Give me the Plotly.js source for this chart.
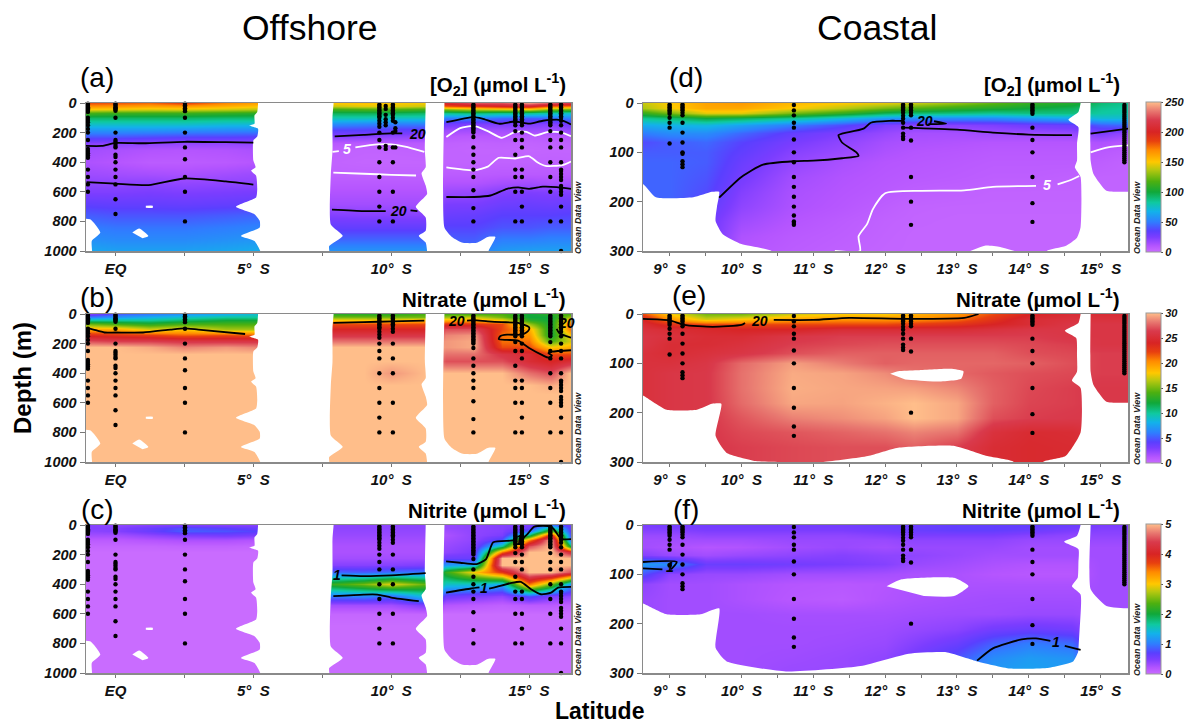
<!DOCTYPE html>
<html><head><meta charset="utf-8"><script src="https://cdn.plot.ly/plotly-3.0.1.min.js"></script>
<style>html,body{margin:0;padding:0;background:#fff}#c{width:1184px;height:724px}</style></head>
<body><div id="c"></div>
<script>
// ---------- shared colours ----------
const odvColors = [[0,'#c96cff'],[0.04,'#b555ff'],[0.1,'#7b3dff'],[0.14,'#5a3fff'],[0.2,'#2f7dff'],[0.27,'#12b2ea'],[0.33,'#0fc9a0'],[0.4,'#10a83a'],[0.47,'#4db010'],[0.55,'#b8c810'],[0.6,'#ffc800'],[0.68,'#ff8a00'],[0.74,'#e8400f'],[0.8,'#d82424'],[0.88,'#d93a4c'],[0.94,'#e87870'],[1,'#ffbe8a']];

// ---------- grids ----------
const latOff = [-1,0,1.2,2.5,4,5.2,6.5,7.8,9,10,11.3,12,13,14,15,15.8,16.5];
const depthOff = [0,20,40,70,100,140,180,220,270,320,400,480,540,600,680,760,840,920,1000];
const latCoast = [8.63,9,9.5,10,10.7,11.4,12,12.4,13,13.5,14,14.6,15,15.38];
const depthCoast = [0,10,20,30,45,60,80,100,120,150,180,210,240,270,300];

const o2Off = [
[182,180,176,186,170,162,160,150,152,150,148,205,225,225,240,225,215],
[168,166,162,165,158,152,150,140,145,145,140,180,190,200,205,180,175],
[150,148,145,146,142,138,130,115,118,120,115,130,140,145,150,130,125],
[115,112,112,112,110,108,100,95,95,95,92,85,90,85,85,80,75],
[92,92,92,92,90,90,85,78,78,75,75,50,52,45,42,45,50],
[75,75,75,75,72,72,65,55,52,50,50,28,24,24,24,22,28],
[58,58,58,56,54,54,45,35,35,33,32,16,15,15,16,15,18],
[42,42,40,38,38,36,30,22,22,20,20,9,8,9,7,8,9],
[22,21,20,19,19,20,14,9,8,8,8,5,4,5,4,5,5],
[15,13,11,10,11,13,8,5,4,4,5,4,3.5,3.5,3,3.5,3.5],
[12,10,7,7,8,10,6,4,3,3,3,4,4,4.5,4.5,5,4.5],
[16,15,14,13,15,17,8,5,5,5,5,7,7,8,8,8,8],
[20,20,21,19,20,20,10,8,8,8,8,11,11,14,15,13,14],
[24,24,25,24,25,26,12,11,11,11,11,17,18,23,24,23,23],
[33,32,32,31,32,33,15,15,15,15,15,25,25,29,30,29,30],
[42,40,40,40,42,44,20,23,22,22,22,30,31,35,35,35,36],
[50,48,48,48,50,52,30,32,32,32,32,36,36,40,40,42,42],
[56,54,54,54,56,58,40,44,44,44,44,42,42,50,50,52,52],
[64,62,62,62,64,66,55,58,58,58,58,50,50,60,62,62,62]];

const no3Off = [
[3,5,6,7,8,9,10,13,13,13,14,14,14,14,12,13,14],
[6,7,8,9,10,10,11,15,15,15,15,16,17,15,12,12,16],
[10,10,10,11,12,12,13,18,18,18,19,19,19,18,13,12,19],
[15,14,13,14,14,14,17,22,22,22,22,23,23,22,16,12,21],
[19,19,17,18,16,16,20,24,24,24,24,27,27,22,19,12,21],
[23.5,23,22.5,21.5,22,21.5,24,26,26,26,26,28.5,29,21,20,12,18],
[27,26.5,26.5,26,26,26,27,28,28,28,28,29,29.5,21,21,14,17],
[30,30,29.5,28.5,29,28.5,29,30,30,30,30,29,29.5,22,22,18,19],
[30,30,30,30,30,30,30,30,30,30,30,28,28,26,25,22,22],
[30,30,30,30,30,30,30,30,30,30,30,27,27,27,25,24,25],
[30,30,30,30,30,30,30,30,30,29,30,30,30,30,28,27,30],
[30,30,30,30,30,30,30,30,30,30,30,30,30,30,30,29.5,30],
[30,30,30,30,30,30,30,30,30,30,30,30,30,30,30,30,30],
[30,30,30,30,30,30,30,30,30,30,30,30,30,30,30,30,30],
[30,30,30,30,30,30,30,30,30,30,30,30,30,30,30,30,30],
[30,30,30,30,30,30,30,30,30,30,30,30,30,30,30,30,30],
[30,30,30,30,30,30,30,30,30,30,30,30,30,30,30,30,30],
[30,30,30,30,30,30,30,30,30,30,30,30,30,30,30,30,30],
[30,30,30,30,30,30,30,30,30,30,30,30,30,30,30,30,30]];

const no2Off = [
[.45,.4,.45,.5,.45,.45,.4,.4,.4,.4,.4,.35,.4,.45,.5,1,.6],
[.45,.45,.6,.8,.7,.6,.4,.4,.4,.4,.4,.35,.4,.45,.6,1.8,.65],
[.4,.45,.6,.85,.8,.7,.4,.38,.38,.38,.38,.3,.4,.45,.9,2.5,.7],
[.3,.3,.4,.5,.55,.5,.35,.35,.35,.35,.35,.25,.4,.5,1.8,4,.85],
[.15,.15,.2,.25,.25,.2,.3,.3,.3,.3,.3,.3,.4,.8,3.4,5,1],
[.05,.05,.05,.08,.08,.05,.25,.25,.25,.25,.25,.35,.45,1.7,4.5,5,2],
[0,0,0,0,0,0,.25,.25,.25,.25,.25,.4,.5,3.5,5,5,4.2],
[0,0,0,0,0,0,.3,.3,.3,.3,.3,.6,.6,5,5,5,5],
[0,0,0,0,0,0,.45,.45,.45,.45,.5,1.2,1.3,5,5,5,5],
[0,0,0,0,0,0,.9,.9,.85,.95,1,2.2,3,3.8,5,5,4.5],
[0,0,0,0,0,0,2,2.2,2.5,2.9,2.4,1.5,1.5,1.3,3.5,2.5,1.2],
[0,0,0,0,0,0,1,1,1.05,.9,1.5,.6,.5,.4,.8,.5,.4],
[0,0,0,0,0,0,.3,.3,.3,.3,.5,.2,.15,.1,.15,.15,.1],
[0,0,0,0,0,0,.05,.05,.05,.05,.05,0,0,0,0,0,0],
[0,0,0,0,0,0,0,0,0,0,0,0,0,0,0,0,0],
[0,0,0,0,0,0,0,0,0,0,0,0,0,0,0,0,0],
[0,0,0,0,0,0,0,0,0,0,0,0,0,0,0,0,0],
[0,0,0,0,0,0,0,0,0,0,0,0,0,0,0,0,0],
[0,0,0,0,0,0,0,0,0,0,0,0,0,0,0,0,0]];

const o2Coast = [
[140,150,162,165,155,150,145,140,130,120,110,105,90,85],
[135,148,160,160,150,138,125,118,110,105,100,95,85,82],
[110,125,145,145,125,110,95,90,88,85,88,88,82,80],
[85,90,100,95,85,72,60,55,55,55,60,65,72,72],
[65,68,70,62,50,38,24,22,22,24,28,30,42,45],
[50,55,55,45,32,24,18,14,14,16,16,18,25,18],
[38,42,45,36,26,20,14,12,11,10,10,10,12,9],
[42,42,42,33,22,17,12,10,9,8,8,8,8,6],
[44,44,42,30,19,13,10,9,8,7,7,7,6,4],
[44,44,40,27,15,11,9,8,7,6,6,5,4,4],
[44,44,38,23,13,10,8,6,5,4,4,4,4,4],
[44,44,34,20,12,9,6,4,3.5,3.5,3.5,3.5,3.5,3.5],
[44,44,30,16,10,7,4.5,3.5,3,3,3,3,3,3],
[44,44,30,12,8,6,4,3,3,3,3,3,3,3],
[44,44,30,10,7,5,3.5,3,3,3,3,3,3,3]];

const no3Coast = [
[22,18,15,15,17,18,18,19,20,22,24,25,25,25],
[24,20,17,18,19.5,20,20,20,21,23,25,25.5,25.5,25.5],
[25,23,22,22,22,22,22,22.5,23,24,25,26,26,26],
[25.5,25,24.5,24,24,25,25,25,25,25.5,26,26,26,26],
[26,25.5,25,25,26,26.5,26.5,26.5,26.5,26.5,26.5,26,26,26],
[26,25,25,25.5,26.5,26.8,27,27,27,27,26.8,26.5,26,26],
[25.5,25,25.5,26,27,27.5,27.5,27.5,27.5,27.5,27,26.8,26.5,26.5],
[25.5,25.5,26,27.8,29.2,28.3,27.5,27.7,27.7,27.7,27.5,27,26.5,26.5],
[25.5,26,26.2,28,29.5,29.3,28.7,28,27.7,27.3,27,26.8,26.5,26.5],
[25.5,26,26.2,28,29.6,29.4,29.3,29.2,28.6,27.5,26.8,26.5,26.2,26.2],
[25.5,26,26.2,27.8,29.4,29.3,29.7,30,29.4,27.5,26.7,26.5,26.2,26.2],
[25.5,26,26.2,27.2,28.4,28.8,29.3,30,29.4,27,26.5,26.3,26.2,26.2],
[25.5,26,26.2,26.8,27.2,27.6,28,28.5,28,25.5,24.8,25,26,26],
[25.5,26,26.2,26.5,26.8,27,27,27.5,26.5,25,24.6,24.8,26,26],
[25.5,26,26.2,26.5,26.8,27,27,27.5,26.5,25,24.6,24.8,26,26]];

const no2Coast = [
[.5,.55,.55,.55,.55,.55,.6,.6,.65,.65,.65,.6,.5,.5],
[.45,.45,.5,.5,.5,.5,.55,.6,.65,.65,.6,.5,.45,.45],
[.35,.35,.4,.4,.4,.4,.45,.5,.5,.5,.45,.4,.4,.4],
[.3,.3,.3,.3,.35,.35,.35,.4,.4,.4,.35,.35,.35,.35],
[.3,.25,.2,.22,.3,.35,.3,.35,.35,.35,.3,.3,.3,.3],
[.45,.35,.3,.35,.4,.45,.4,.4,.35,.3,.3,.3,.3,.3],
[1.2,1.1,.6,.6,.55,.5,.45,.35,.3,.25,.22,.22,.3,.3],
[.8,.4,.35,.35,.3,.3,.28,.25,.25,.2,.18,.18,.3,.3],
[.4,.3,.3,.25,.2,.18,.2,.25,.25,.25,.25,.25,.3,.3],
[.35,.3,.3,.25,.18,.15,.22,.25,.28,.3,.3,.3,.3,.3],
[.35,.3,.3,.3,.28,.28,.28,.3,.32,.32,.35,.35,.3,.3],
[.3,.3,.3,.3,.3,.3,.32,.36,.42,.55,.6,.55,.3,.3],
[.3,.3,.3,.3,.3,.32,.35,.45,.6,.85,1,.9,.3,.3],
[.3,.3,.3,.3,.32,.35,.4,.55,.8,1.1,1.2,1.15,.3,.3],
[.3,.3,.3,.3,.35,.35,.4,.6,.9,1.2,1.25,1.2,.3,.3]];

// ---------- no-data outlines [latitude, depth] ----------
const gapMid = [[5.17,-20],[5.17,0],[5.14,61],[5.04,84],[5.04,140],[4.86,152],[5.17,174],[5.14,226],[5,253],[5,389],[5.08,434],[4.92,457],[5.1,491],[5.14,581],[5.1,638],[4.37,701],[5.04,751],[5.23,796],[5.23,841],[4.55,898],[5.04,932],[5.25,1000],[5.25,1040],[7.75,1040],[7.75,966],[8.24,898],[7.81,821],[7.81,480],[7.87,322],[7.87,95],[7.91,0],[7.91,-20]];
const gapShelf = [[11.25,-20],[11.25,0],[11.22,322],[11.25,434],[11.1,475],[11.25,558],[11.3,615],[10.89,701],[11.25,773],[11.25,864],[11,898],[11.25,943],[11.3,1000],[11.3,1040],[13.53,1040],[13.53,1000],[13.78,905],[13.5,905],[13.1,945],[12.6,945],[12.2,905],[11.93,841],[11.93,0],[11.93,-20]];
const gapCorner = [[-1.4,785],[-0.92,785],[-0.55,875],[-0.86,932],[-0.86,1040],[-1.4,1040]];
const islandA = [[1.1,694],[1.35,694],[1.35,708],[1.1,708]];
const islandB = [[0.61,875],[0.86,848],[1.19,898],[0.98,914]];
const gapsOff = [gapMid,gapShelf,gapCorner,islandA,islandB];

const coastD1 = [[8.4,150],[8.63,164],[8.81,191],[9.33,191],[9.59,180],[9.69,180],[9.66,210],[9.64,239],[9.74,266],[10,286],[10.42,300],[10.5,320],[8.4,320]];
const coastD2 = [[14.72,-10],[14.72,0],[14.69,18],[14.55,34],[14.69,49],[14.67,83],[14.67,117],[14.64,130],[14.72,150],[14.72,252],[14.67,273],[14.51,290],[14.25,300],[14.25,320],[15.6,320],[15.6,180],[15.38,180],[15.08,178],[14.9,144],[14.86,117],[14.86,0],[14.86,-10]];
const coastD3 = [[13.15,302],[13.4,289],[13.6,292],[13.85,302]];
const coastE1 = [[8.4,150],[8.63,165],[8.96,194],[9.38,194],[9.59,182],[9.72,182],[9.64,247],[9.79,281],[10.2,298],[10.6,300],[11.14,300],[11.76,288],[12.18,271],[12.95,267],[13.42,288],[13.79,300],[13.79,320],[8.4,320]];
const coastE2 = [[14.72,-10],[14.72,0],[14.69,18],[14.5,34],[14.66,49],[14.67,83],[14.67,117],[14.6,135],[14.72,150],[14.72,240],[14.51,288],[14.2,300],[14.2,320],[15.6,320],[15.6,180],[15.38,180],[15.08,178],[14.9,144],[14.86,117],[14.86,0],[14.86,-10]];
const coastE3 = [[12.07,121],[12.18,116],[12.44,114],[12.91,111],[13.09,116],[13.06,131],[12.7,137],[12.28,133]];
const coastF1 = [[8.4,150],[8.63,159],[8.96,181],[9.43,181],[9.69,169],[9.64,249],[9.79,276],[10.62,297],[11.66,286],[12.33,261],[12.85,258],[13.27,276],[13.74,291],[14.25,290],[14.62,276],[14.72,249],[14.75,320],[8.4,320]];
const coastF2 = [[14.72,-10],[14.72,0],[14.67,22],[14.49,34],[14.69,49],[14.69,76],[14.68,107],[14.6,124],[14.72,141],[14.72,320],[15.6,320],[15.6,169],[15.38,169],[15.08,164],[14.86,130],[14.86,0],[14.86,-10]];
const coastF3 = [[12.02,124],[12.23,110],[12.96,107],[13.16,124],[12.96,144],[12.54,144]];

// ---------- sampling stations: [latitude, depths] ----------
const stationsOff = [
[-1,[5,12,20,28,36,44,52,60,100,115,130,150,175,200,250,310,325,340,355,370,450,500,550,600]],
[0,[5,12,20,28,36,44,52,100,200,250,262,275,290,300,350,365,400,450,500,550,650,750]],
[2.52,[5,15,25,35,45,55,100,200,300,380,500,600,800]],
[9.57,[10,20,30,40,50,60,70,80,90,100,120,140,160,200,250,300,400,500,600,700,800]],
[10.06,[10,20,30,40,50,60,70,80,100,120,200,300,400,600,800]],
[12.98,[10,20,30,40,50,60,70,80,90,100,110,120,130,140,150,160,170,180,190,200,230,300,350,400,450,500,590,710,800]],
[14.5,[10,20,30,40,50,60,70,80,90,100,110,120,130,150,190,250,350,450,500,600,800]],
[14.74,[10,20,30,40,50,60,70,80,90,100,110,120,130,150,200,250,300,450,500,600,700,800]],
[15.77,[10,20,30,40,50,60,70,80,90,100,110,120,130,140,150,190,250,300,400,500,600,800]],
[16.16,[10,20,30,40,50,60,70,80,90,100,120,150,200,250,300,400,450,460,480,500,520,560,580,600,620,700,800,1000]]];
const extraO2 = [[9.8,[20,40,80,110,130,150,290,310]],[10.15,[130,170,190,300]]];
const stationsCoastA = [
[9,[3,6,9,12,15,18,22,30,40,50,82]],
[9.18,[3,6,9,12,15,20,25,40,60,80,100,103,118,124,130]],
[10.73,[4,15,25,40,50,74,100,120,150,170,190,210,228,240,243,247]],
[12.25,[3,6,9,12,15,20,26,32,40,50,62,68,73]],
[12.36,[3,6,9,12,15,20,25,50,76,150,200,247]],
[14.05,[3,6,9,12,15,18,22,50,75,100,150,203,241]],
[15.33,[4,8,12,16,20,24,28,32,36,40,44,48,52,56,60,64,68,72,76,80,84,88,92,96,100,104,108,112,116,120]]];
const stationsCoastB = [
[9,[3,6,9,12,15,18,22,30,40,50,82]],
[9.18,[3,6,9,12,15,20,25,40,60,80,100,118,124,130]],
[10.73,[4,15,25,40,50,74,100,150,190,228,247]],
[12.25,[3,6,9,12,15,20,26,32,40,50,62,68,73]],
[12.36,[3,6,9,12,15,20,25,50,76,200]],
[14.05,[3,6,9,12,15,18,22,50,75,100,150,203,241]],
[15.33,[4,8,12,16,20,24,28,32,36,40,44,48,52,56,60,64,68,72,76,80,84,88,92,96,100,104,108,112,116,120]]];

// ---------- isolines [latitude, depth] ----------
const isoA = {
 black:[
 [[-1.07,290],[-0.5,290],[0,270],[1,272],[2.5,262],[4,265],[5,268]],
 [[-1.05,535],[0,545],[1.2,555],[2.5,510],[4,530],[5,552]],
 [[7.95,225],[9,215],[10,205],[10.4,205]],
 [[7.85,720],[9,730],[9.8,730]],[[10.7,725],[10.95,730]],
 [[12,130],[12.98,95],[13.3,105],[13.9,140],[14.5,125],[15,140],[15.5,120],[16.16,115],[16.52,145]],
 [[12,635],[13,635],[13.6,625],[14.2,580],[14.6,570],[15,580],[15.5,565],[16,568],[16.52,580]]],
 white:[
 [[7.87,330],[8.1,325]],[[8.7,300],[9.5,280],[10,280],[10.5,295],[11.2,330]],
 [[7.9,470],[9,478],[10,485],[10.9,490]],
 [[12,230],[12.5,170],[13,155],[13.5,190],[14,235],[14.5,195],[14.9,195],[15.2,220],[15.7,195],[16.2,200],[16.52,225]],
 [[12,435],[13,455],[13.5,430],[13.9,370],[14.5,375],[15,360],[15.3,400],[15.6,425],[16.2,420],[16.52,395]]]};
const isoB = {black:[
 [[-1,95],[-0.8,105],[-0.4,125],[0,125],[1,125],[2,105],[2.5,97],[3,105],[4.7,135]],
 [[7.9,60],[9,55],[10,50],[11.2,45]],
 [[12.75,45],[13,42],[13.5,50],[14,55],[14.6,60],[15,90],[15,105],[14.9,125],[14.7,140],[14.2,140],[13.95,150],[13.9,170],[14.2,175],[14.6,180],[15,230],[15.5,280],[15.7,295],[15.83,280],[15.7,265],[15.83,255],[16.52,245]],
 [[16,100],[16.1,130],[16.52,160]]],white:[]};
const isoC = {black:[
 [[8.2,340],[9,345],[10,340],[11.25,325]],
 [[7.9,480],[9,470],[9.5,470],[10,490],[11,515]],
 [[11.99,246],[12.5,255],[13.1,264],[13.44,230],[13.7,117],[14.33,106],[14.55,100]],
 [[14.75,95],[14.94,61],[15.19,11],[15.8,11],[16.11,84],[16.17,95],[16.52,95]],
 [[11.99,457],[12.9,429],[13.2,422]],
 [[13.55,430],[13.75,422],[14.33,393],[14.7,384],[15.07,434],[15.43,468],[15.8,457],[16.05,423],[16.52,418]]],white:[]};
const isoD = {black:[
 [[9.69,192],[10,150],[10.3,125],[10.73,118],[11,117],[11.4,112],[11.63,107],[11.6,100],[11.4,80],[11.35,65],[11.4,62],[11.7,52],[11.8,40],[12.1,36],[12.25,35],[12.25,15]],
 [[12.25,50],[13,54],[13.5,60],[14,64],[14.6,65]],[[14.86,62],[15.38,52]],
 [[12.68,37],[12.85,42],[12.6,43]]],
 white:[
 [[11.3,300],[11.65,300],[11.63,270],[11.75,245],[11.83,215],[12,183],[12.5,178],[13.1,177],[13.5,170],[14.1,168]],
 [[14.4,165],[14.6,155],[14.7,148]],[[14.86,100],[15.1,90],[15.38,86]]]};
const isoE = {black:[
 [[8.63,10],[9,13],[9.2,22],[9.6,26],[10,22],[10.05,18]],
 [[10.45,12],[11,12],[11.5,8],[12.3,10],[13.1,8],[13.3,0]]],white:[]};
const isoF = {black:[
 [[8.63,75],[9.1,75],[9.02,90]],[[8.63,88],[8.9,90]],
 [[13.28,275],[13.5,250],[13.9,232],[14.1,230],[14.3,235]],
 [[14.5,245],[14.72,253]]],white:[]};

// labels on isolines: [latitude, depth, text, colour]
const labelsA = [[10.95,210,'20','#000'],[8.4,310,'5','#fff'],[10.25,730,'20','#000']];
const labelsB = [[12.35,50,'20','#000'],[16.35,60,'20','#000']];
const labelsC = [[8.05,335,'1','#000'],[13.38,425,'1','#000'],[14.65,100,'1','#000']];
const labelsD = [[12.55,36,'20','#000'],[14.25,166,'5','#fff']];
const labelsE = [[10.25,15,'20','#000']];
const labelsF = [[9,86,'1','#000'],[14.38,238,'1','#000']];

// ---------- axis labels ----------
const offTickVals = [0,5,10,15], offTickText = ['EQ','5°  S','10°  S','15°  S'], offMinor = [2.5,7.5,12.5];
const coastTickVals = [9,10,11,12,13,14,15], coastTickText = ['9°  S','10°  S','11°  S','12°  S','13°  S','14°  S','15°  S'];
const coastMinor = [9.5,10.5,11.5,12.5,13.5,14.5];
const offDepthTicks = [0,200,400,600,800,1000], coastDepthTicks = [0,100,200,300];
const o2BarTicks=[0,50,100,150,200,250], no3BarTicks=[0,5,10,15,20,25,30], no2BarTicks=[0,1,2,3,4,5];

// ---------- page geometry ----------
const W=1184,H=724,mL=40,mR=50,mT=20,mB=20;
const px=x=>(x-mL)/(W-mL-mR), py=y=>1-(y-mT)/(H-mT-mB);
const rows=[[103,251],[314,462],[525,673]];
const cols=[[86,571],[643,1128]];
const panelTitles=['[O<sub>2</sub>] (µmol L<sup>-1</sup>)','Nitrate (µmol L<sup>-1</sup>)','Nitrite (µmol L<sup>-1</sup>)'];
const FONT='"Liberation Sans", Arial, sans-serif';

const panels=[
 {l:'(a)',c:0,r:0,z:o2Off,max:250,iso:isoA,labels:labelsA,gaps:gapsOff,st:stationsOff.concat(extraO2),lx:97,ly:77},
 {l:'(b)',c:0,r:1,z:no3Off,max:30,iso:isoB,labels:labelsB,gaps:gapsOff,st:stationsOff,lx:97,ly:297},
 {l:'(c)',c:0,r:2,z:no2Off,max:5,iso:isoC,labels:labelsC,gaps:gapsOff,st:stationsOff,lx:97,ly:509},
 {l:'(d)',c:1,r:0,z:o2Coast,max:250,bar:o2BarTicks,iso:isoD,labels:labelsD,gaps:[coastD1,coastD2,coastD3],st:stationsCoastA,lx:686,ly:77},
 {l:'(e)',c:1,r:1,z:no3Coast,max:30,bar:no3BarTicks,iso:isoE,labels:labelsE,gaps:[coastE1,coastE2,coastE3],st:stationsCoastB,lx:689,ly:295},
 {l:'(f)',c:1,r:2,z:no2Coast,max:5,bar:no2BarTicks,iso:isoF,labels:labelsF,gaps:[coastF1,coastF2,coastF3],st:stationsCoastB,lx:686,ly:509}];

const traces=[],ann=[];
const layout={width:W,height:H,margin:{l:mL,r:mR,t:mT,b:mB,pad:0,autoexpand:false},paper_bgcolor:'#fff',plot_bgcolor:'#fff',showlegend:false,font:{family:FONT,color:'#000'}};
const tf=s=>({family:FONT,size:s,color:'#111',weight:'bold',style:'italic'});
const note=(x,y,text,font,extra)=>Object.assign({xref:'paper',yref:'paper',x:px(x),y:py(y),xanchor:'center',yanchor:'middle',text,showarrow:false,font},extra||{});

panels.forEach((p,i)=>{
 const n=i?String(i+1):'';
 const xa='x'+n, ya='y'+n, off=p.c===0;
 layout['xaxis'+n]={domain:[px(cols[p.c][0]),px(cols[p.c][1])],anchor:ya,range:off?[-1.07,16.52]:[8.63,15.38],
  tickmode:'array',tickvals:off?offTickVals:coastTickVals,ticktext:off?offTickText:coastTickText,
  ticks:'outside',ticklen:3,tickwidth:1,tickcolor:'#777',tickfont:tf(15),showgrid:false,zeroline:false,
  minor:{tickmode:'array',tickvals:off?offMinor:coastMinor,ticks:'outside',ticklen:3,tickcolor:'#777',showgrid:false},
  showline:true,linecolor:'#8a8a8a',linewidth:1.5,mirror:true};
 layout['yaxis'+n]={domain:[py(rows[p.r][1]),py(rows[p.r][0])],anchor:xa,range:off?[1000,0]:[300,0],
  tickmode:'array',tickvals:off?offDepthTicks:coastDepthTicks,ticks:'outside',ticklen:5,tickwidth:1,tickcolor:'#777',
  tickfont:tf(14.5),showgrid:false,zeroline:false,showline:true,linecolor:'#8a8a8a',linewidth:1.5,mirror:true};
 const hm={type:'heatmap',xaxis:xa,yaxis:ya,x:off?latOff:latCoast,y:off?depthOff:depthCoast,z:p.z,zmin:0,zmax:p.max,
  zsmooth:'best',colorscale:odvColors,hoverinfo:'skip',showscale:!!p.bar};
 if(p.bar) hm.colorbar={x:px(1146),xanchor:'left',y:py(rows[p.r][0]-1),yanchor:'top',xpad:0,ypad:0,
  thickness:15,thicknessmode:'pixels',len:150,lenmode:'pixels',tickmode:'array',tickvals:p.bar,ticks:'outside',ticklen:2,
  tickcolor:'#555',outlinecolor:'#999',outlinewidth:1,tickfont:tf(11),borderwidth:0};
 traces.push(hm);
 p.gaps.forEach(g=>traces.push({type:'scatter',mode:'lines',xaxis:xa,yaxis:ya,x:g.map(q=>q[0]),y:g.map(q=>q[1]),
   fill:'toself',fillcolor:'#fff',line:{width:0,color:'#fff',shape:'spline',smoothing:0.5},hoverinfo:'skip'}));
 [['black','#000',1.8],['white','#fff',1.8]].forEach(([k,c,w])=>p.iso[k].forEach(s=>traces.push({type:'scatter',mode:'lines',xaxis:xa,yaxis:ya,
   x:s.map(q=>q[0]),y:s.map(q=>q[1]),line:{color:c,width:w,shape:'spline',smoothing:0.6},hoverinfo:'skip'})));
 const dx=[],dy=[];
 p.st.forEach(s=>s[1].forEach(d=>{dx.push(s[0]);dy.push(d);}));
 traces.push({type:'scatter',mode:'markers',xaxis:xa,yaxis:ya,x:dx,y:dy,marker:{color:'#000',size:4.4},hoverinfo:'skip',cliponaxis:false});
 p.labels.forEach(q=>ann.push({xref:xa,yref:ya,x:q[0],y:q[1],xanchor:'center',yanchor:'middle',text:q[2],showarrow:false,font:{family:FONT,size:14,color:q[3],weight:'bold',style:'italic'}}));
 ann.push(note(p.lx,p.ly,p.l,{family:FONT,size:28,color:'#000'}));
 ann.push(note(off?568:1122,[84,298,509][p.r],panelTitles[p.r],{family:FONT,size:20.5,color:'#000',weight:'bold'},{xanchor:'right'}));
 ann.push(note(off?578:1137,rows[p.r][1]-33,'Ocean Data View',{family:FONT,size:9,color:'#222',weight:'bold',style:'italic'},{textangle:-90}));
});
ann.push(note(310,28,'Offshore',{family:FONT,size:35.5,color:'#000'}));
ann.push(note(877,28,'Coastal',{family:FONT,size:35.5,color:'#000'}));
ann.push(note(22,378,'Depth (m)',{family:FONT,size:24,color:'#000',weight:'bold'},{textangle:-90}));
ann.push(note(599,711,'Latitude',{family:FONT,size:23,color:'#000',weight:'bold'}));
layout.annotations=ann;
Plotly.newPlot('c',traces,layout,{staticPlot:true,displayModeBar:false});
</script></body></html>
